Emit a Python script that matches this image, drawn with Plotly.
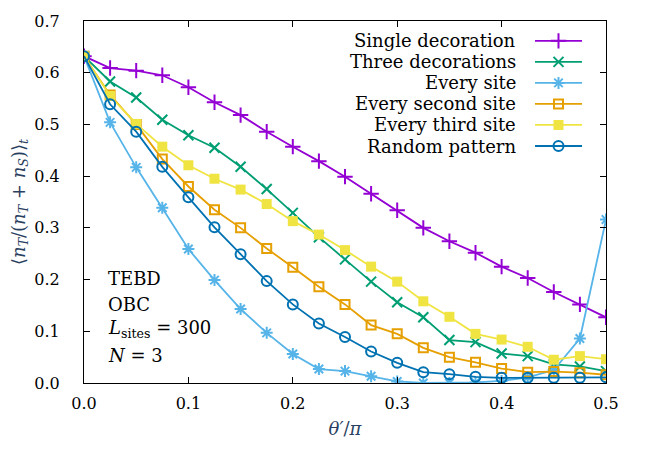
import plotly.graph_objects as go

theta = [0.0, 0.025, 0.05, 0.075, 0.1, 0.125, 0.15, 0.175, 0.2, 0.225, 0.25,
         0.275, 0.3, 0.325, 0.35, 0.375, 0.4, 0.425, 0.45, 0.475, 0.5]

single_decoration = [0.632, 0.609, 0.604, 0.595, 0.572, 0.543, 0.518, 0.486, 0.457, 0.429, 0.399,
                     0.366, 0.334, 0.300, 0.274, 0.252, 0.225, 0.203, 0.176, 0.152, 0.127]
three_decorations = [0.632, 0.583, 0.552, 0.509, 0.479, 0.455, 0.418, 0.375, 0.329, 0.282, 0.239,
                     0.196, 0.156, 0.127, 0.083, 0.079, 0.057, 0.052, 0.036, 0.032, 0.023]
every_site = [0.632, 0.504, 0.417, 0.339, 0.259, 0.199, 0.143, 0.097, 0.056, 0.027, 0.023,
              0.013, 0.003, 0.000, 0.000, 0.001, 0.004, 0.011, 0.025, 0.086, 0.316]
every_second_site = [0.632, 0.557, 0.500, 0.433, 0.380, 0.335, 0.300, 0.260, 0.224, 0.186, 0.152,
                     0.112, 0.095, 0.068, 0.050, 0.040, 0.028, 0.021, 0.022, 0.020, 0.016]
every_third_site = [0.632, 0.555, 0.501, 0.457, 0.421, 0.395, 0.374, 0.346, 0.313, 0.287, 0.257,
                    0.225, 0.196, 0.158, 0.128, 0.095, 0.084, 0.070, 0.045, 0.052, 0.046]
random_pattern = [0.632, 0.539, 0.486, 0.418, 0.359, 0.301, 0.249, 0.197, 0.152, 0.115, 0.089,
                  0.061, 0.039, 0.021, 0.017, 0.012, 0.010, 0.010, 0.010, 0.010, 0.011]

names = ["Single decoration", "Three decorations", "Every site",
         "Every second site", "Every third site", "Random pattern"]
series = [single_decoration, three_decorations, every_site,
          every_second_site, every_third_site, random_pattern]
colors = ["#9400d3", "#009e73", "#56b4e9", "#e69f00", "#f0e442", "#0072b2"]
symbols = ["cross-thin-open", "x-thin-open", "asterisk-open",
           "square-open", "square", "circle-open"]
sizes = [11, 10, 10, 9, 10, 10]

x_ticks = [0.0, 0.1, 0.2, 0.3, 0.4, 0.5]
y_ticks = [0.0, 0.1, 0.2, 0.3, 0.4, 0.5, 0.6, 0.7]

FONT = "DejaVu Serif"
FS_TICK = 16
FS_TEXT = 18

fig = go.Figure()

def marker_for(i):
    sym = symbols[i]
    if sym == "square":
        return dict(symbol=sym, size=sizes[i], color=colors[i], line=dict(width=0))
    return dict(symbol=sym, size=sizes[i], color=colors[i],
                line=dict(width=2, color=colors[i]))

for i, (nm, ys) in enumerate(zip(names, series)):
    fig.add_trace(go.Scatter(
        x=theta, y=ys, name=nm, mode="lines+markers",
        line=dict(color=colors[i], width=1.8),
        marker=marker_for(i),
        showlegend=False, xaxis="x", yaxis="y",
    ))

# manual legend (key on the right of the text, gnuplot style)
for i, nm in enumerate(names):
    fig.add_trace(go.Scatter(
        x=[0, 0.5, 1], y=[i, i, i], mode="lines+markers",
        line=dict(color=colors[i], width=1.8),
        marker=dict(marker_for(i), opacity=[0, 1, 0]),
        showlegend=False, hoverinfo="skip", xaxis="x2", yaxis="y2",
    ))
    fig.add_annotation(x=0.8314, xref="paper", y=i, yref="y2",
                       text=nm, showarrow=False, xanchor="right", yanchor="middle",
                       font=dict(family=FONT, size=FS_TEXT, color="black"))

info_lines = ["TEBD", "OBC", "<i>L</i><sub>sites</sub> = 300", "<i>N</i> = 3"]
info_y = [0.289, 0.216, 0.149, 0.076]
for t, yy in zip(info_lines, info_y):
    fig.add_annotation(x=0.0421, xref="paper", y=yy, yref="paper",
                       text=t, showarrow=False, xanchor="left", yanchor="middle",
                       font=dict(family=FONT, size=FS_TEXT, color="black"))

axis_common = dict(showline=True, linecolor="black", linewidth=1, mirror="ticks",
                   ticks="inside", ticklen=6, tickcolor="black", showgrid=False,
                   zeroline=False, tickfont=dict(family=FONT, size=FS_TICK, color="black"))

fig.update_layout(
    width=645, height=452,
    margin=dict(l=84, r=39, t=13, b=69),
    paper_bgcolor="white", plot_bgcolor="rgba(0,0,0,0)",
    xaxis=dict(axis_common, range=[0, 0.5], tickvals=x_ticks,
               ticktext=[f"{v:.1f}" for v in x_ticks], ticklabelstandoff=6,
               title=dict(text="<i>θ′</i>/<i>π</i>", font=dict(family=FONT, size=FS_TEXT), standoff=10)),
    yaxis=dict(axis_common, range=[0, 0.7], tickvals=y_ticks,
               ticktext=[f"{v:.1f}" for v in y_ticks], ticklabelstandoff=20,
               title=dict(text="⟨<i>n</i><sub><i>T</i></sub>/(<i>n</i><sub><i>T</i></sub> + <i>n</i><sub><i>S</i></sub>)⟩<sub><i>t</i></sub>",
                          font=dict(family=FONT, size=FS_TEXT), standoff=4)),
    xaxis2=dict(domain=[0.864, 0.954], range=[0, 1], visible=False, anchor="y2"),
    yaxis2=dict(domain=[0, 1], range=[16.27, -0.944], visible=False, anchor="x2"),
    showlegend=False,
)

fig.write_html("out.html")
